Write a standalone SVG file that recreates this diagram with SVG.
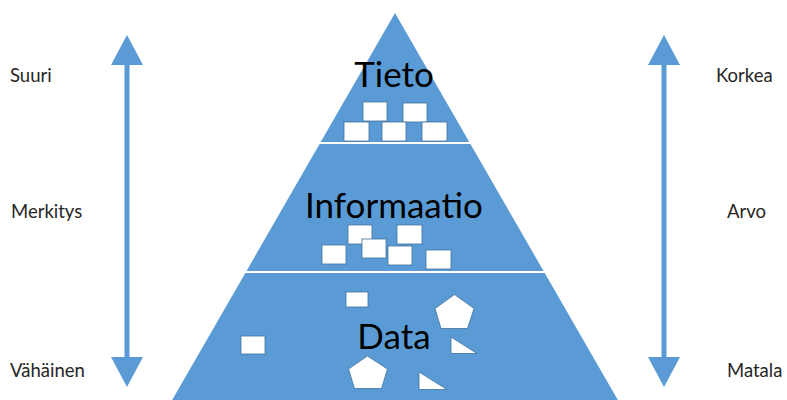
<svg xmlns="http://www.w3.org/2000/svg" width="787" height="400" viewBox="0 0 787 400">
  <style>
    .band { fill: #5b9bd5; }
    .sep { stroke: #ffffff; stroke-width: 2; }
    .item { fill: #ffffff; stroke: #41719c; stroke-width: 0.8; }
    .title { font-family: Lato, "Liberation Sans", sans-serif; font-size: 35px; fill: #000000; text-anchor: middle; }
    .side { font-family: Lato, "Liberation Sans", sans-serif; font-size: 18.5px; fill: #262626; }
    .arrow { fill: #5b9bd5; }
  </style>

  <!-- pyramid body -->
  <g id="pyramid">
    <polygon class="band" points="395,13 619,402 171,402"/>
  </g>

  <!-- level separators -->
  <g id="connectors">
    <line class="sep" x1="316" y1="143" x2="474" y2="143"/>
    <line class="sep" x1="244" y1="272" x2="546" y2="272"/>
  </g>

  <!-- top level -->
  <g id="tieto">
    <text class="title" x="394" y="87">Tieto</text>
    <rect class="item" x="363" y="102" width="24" height="19"/>
    <rect class="item" x="403" y="103" width="24" height="19"/>
    <rect class="item" x="344" y="122" width="25" height="19"/>
    <rect class="item" x="382" y="122" width="24" height="19"/>
    <rect class="item" x="422" y="122" width="25" height="19"/>
  </g>

  <!-- middle level -->
  <g id="informaatio">
    <text class="title" x="394" y="218">Informaatio</text>
    <rect class="item" x="348" y="225" width="24" height="19"/>
    <rect class="item" x="397" y="225" width="25" height="19"/>
    <rect class="item" x="362" y="239" width="24" height="19"/>
    <rect class="item" x="322" y="245" width="24" height="19"/>
    <rect class="item" x="388" y="246" width="24" height="19"/>
    <rect class="item" x="426" y="250" width="25" height="19"/>
  </g>

  <!-- bottom level -->
  <g id="data">
    <text class="title" x="394" y="349">Data</text>
    <rect class="item" x="346" y="292" width="22" height="15"/>
    <rect class="item" x="241" y="336" width="24" height="18"/>
    <polygon class="item" points="454.5,294.5 474,308.5 467.5,328.5 441,328.5 435,308.5"/>
    <polygon class="item" points="367.5,356 387.5,369 381.5,388.5 354.5,388.5 348.5,369"/>
    <polygon class="item" points="451,337 451,353.5 477,353.5"/>
    <polygon class="item" points="419,372 419,389.5 447,389.5"/>
  </g>

  <!-- left scale -->
  <g id="scale-left">
    <polygon class="arrow" points="127,35 143,65 129.5,65 129.5,357 143,357 127,387 111,357 124.5,357 124.5,65 111,65"/>
    <text class="side" x="10" y="82">Suuri</text>
    <text class="side" x="11" y="218">Merkitys</text>
    <text class="side" x="10" y="377">Vähäinen</text>
  </g>

  <!-- right scale -->
  <g id="scale-right">
    <polygon class="arrow" points="664,35 680,65 666.5,65 666.5,357 680,357 664,387 648,357 661.5,357 661.5,65 648,65"/>
    <text class="side" x="716" y="82">Korkea</text>
    <text class="side" x="727" y="218">Arvo</text>
    <text class="side" x="727" y="377">Matala</text>
  </g>
</svg>
